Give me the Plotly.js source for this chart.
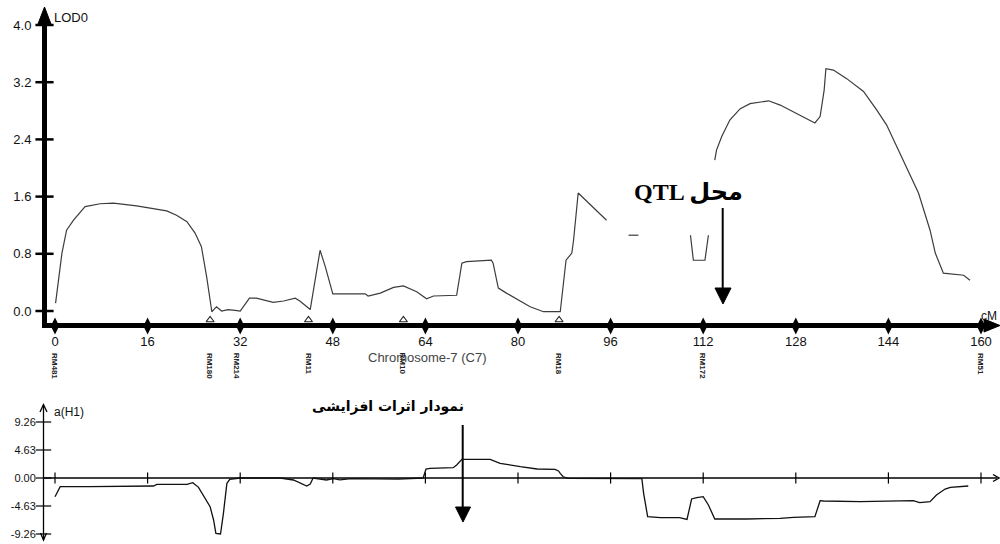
<!DOCTYPE html>
<html><head><meta charset="utf-8">
<script src="https://cdn.plot.ly/plotly-3.0.1.min.js"></script>
<style>html,body{margin:0;padding:0;background:#fff}#chart{width:1000px;height:544px}</style>
</head><body><div id="chart"></div>
<script>
// ---------- data ----------
const lodPos = [0.1, 1.2, 2.0, 3.2, 5.2, 7.8, 10.1, 14.1, 19.3, 21.0, 22.8, 24.2, 25.3, 26.2, 27.1, 27.9, 28.8, 29.9, 31.1, 32.0, 33.6, 34.8, 37.7, 39.5, 41.5, 42.3, 44.1, 45.8, 46.7, 48.0, 53.6, 54.1, 56.2, 58.5, 60.2, 62.5, 64.2, 65.4, 69.4, 70.3, 71.1, 73.4, 75.4, 75.7, 76.6, 78.0, 82.1, 84.4, 87.3, 88.3, 89.3, 89.6, 90.4, 95.3, null, 99.1, 100.8, null, 109.8, 110.3, 112.3, 112.9, null, 114.0, 114.3, 115.2, 116.6, 118.4, 120.1, 123.3, 125.3, 131.3, 132.2, 132.9, 133.2, 134.5, 136.8, 139.7, 142.0, 143.7, 146.6, 149.2, 151.2, 152.1, 153.5, 157.0, 158.1];
const lodVal = [0.11, 0.81, 1.13, 1.27, 1.46, 1.50, 1.51, 1.47, 1.40, 1.34, 1.25, 1.09, 0.90, 0.48, -0.01, 0.06, 0.0, 0.02, 0.01, 0.0, 0.18, 0.18, 0.12, 0.14, 0.18, 0.14, 0.02, 0.85, 0.62, 0.24, 0.24, 0.21, 0.25, 0.33, 0.35, 0.27, 0.17, 0.21, 0.22, 0.67, 0.69, 0.70, 0.71, 0.67, 0.32, 0.25, 0.06, -0.01, -0.01, 0.71, 0.81, 0.99, 1.65, 1.27, null, 1.06, 1.06, null, 1.06, 0.71, 0.71, 1.06, null, 2.11, 2.25, 2.44, 2.67, 2.83, 2.90, 2.94, 2.88, 2.63, 2.72, 3.09, 3.39, 3.37, 3.25, 3.07, 2.81, 2.60, 2.11, 1.65, 1.13, 0.81, 0.53, 0.50, 0.43];

const effPos = [0, 0.9, 6.0, 17.0, 17.6, 22.8, 23.8, 24.8, 26.8, 27.4, 27.8, 28.6, 29.1, 29.7, 30.2, 32.0, 38.9, 41.2, 43.5, 44.1, 44.6, 46.9, 48.1, 49.2, 51.2, 59.3, 63.6, 64.1, 64.8, 68.8, 69.4, 70.3, 75.2, 76.9, 80.4, 83.3, 86.4, 87.0, 87.3, 87.8, 88.7, 101.4, 101.7, 102.4, 104.6, 107.9, 109.2, 110.0, 110.9, 112.0, 112.9, 114.0, 119.5, 125.3, 127.6, 131.3, 132.2, 132.8, 139.1, 145.4, 148.3, 149.4, 151.2, 152.3, 153.8, 154.7, 157.8];
const effVal = [-3.09, -1.43, -1.43, -1.32, -1.05, -1.05, -0.77, -1.55, -4.74, -6.94, -9.15, -9.26, -5.84, -0.88, -0.22, 0, 0, -0.33, -1.32, -0.99, 0, -0.33, -0.1, -0.3, -0.1, -0.17, 0, 1.49, 1.60, 1.71, 2.15, 3.09, 3.09, 2.43, 1.87, 1.49, 1.43, 1.16, 0.77, 0.2, -0.05, -0.1, -2.5, -6.39, -6.56, -6.56, -6.84, -3.47, -3.25, -3.09, -4.46, -6.78, -6.78, -6.67, -6.5, -6.39, -3.75, -3.8, -3.91, -3.8, -3.75, -4.08, -3.91, -2.81, -1.82, -1.54, -1.32];

const xTicks = [0, 16, 32, 48, 64, 80, 96, 112, 128, 144, 160];
const lodTicks = [0, 0.8, 1.6, 2.4, 3.2, 4.0];
const lodTickText = ['0.0', '0.8', '1.6', '2.4', '3.2', '4.0'];
const effTicks = [-9.26, -4.63, 0, 4.63, 9.26];
const effTickText = ['-9.26', '-4.63', '0.00', '4.63', '9.26'];
const markerNames = ['RM481', 'RM180', 'RM214', 'RM11', 'RM10', 'RM18', 'RM172', 'RM51'];
const markerPos = [0, 26.8, 31.5, 43.8, 60.2, 87.1, 112, 160];

// ---------- geometry helpers (layout only) ----------
const W = 1000, H = 544, L = 43;
const X0PX = 55, XPER = 5.7875;            // px of x=0, px per cM
const dx = px => (px - X0PX) / XPER;        // pixel -> cM
const pxX = px => (px - L) / (W - L);       // pixel -> paper x
const pxY = py => 1 - py / H;               // pixel -> paper y
const lodY = py => (311 - py) / 71.5;       // pixel -> LOD
const effY = py => (478 - py) / 6.048;      // pixel -> effect
const xr = [dx(L), dx(W)];

const font = 'Liberation Sans, Arial, sans-serif';
const arabicFont = 'DejaVu Sans, Noto Sans, sans-serif';

const triPos = markerPos.filter(p => !xTicks.some(t => Math.abs(t - p) < 1));

const traces = [
  {x: lodPos, y: lodVal, xaxis: 'x', yaxis: 'y', mode: 'lines', connectgaps: false,
   line: {color: '#3c3c3c', width: 1.2}, hoverinfo: 'skip'},
  {x: effPos, y: effVal, xaxis: 'x2', yaxis: 'y2', mode: 'lines',
   line: {color: '#111', width: 1.3}, hoverinfo: 'skip'},
  // top x-axis tick diamonds
  {x: xTicks, y: xTicks.map(() => lodY(326)), xaxis: 'x', yaxis: 'y', mode: 'markers', cliponaxis: false,
   marker: {symbol: 'diamond-tall', size: 12, color: '#000'}, hoverinfo: 'skip'},
  // marker triangles
  {x: triPos, y: triPos.map(() => lodY(320)),
   xaxis: 'x', yaxis: 'y', mode: 'markers', cliponaxis: false,
   marker: {symbol: 'triangle-up-open', size: 7, color: '#222', line: {width: 1.1, color: '#222'}}, hoverinfo: 'skip'},
  // top y ticks
  {x: lodTicks.map(() => dx(44.5)), y: lodTicks, xaxis: 'x', yaxis: 'y', mode: 'markers', cliponaxis: false,
   marker: {symbol: 'line-ew', size: 13, line: {width: 2.5, color: '#000'}}, hoverinfo: 'skip'},
  // bottom x ticks
  {x: xTicks, y: xTicks.map(() => 0), xaxis: 'x2', yaxis: 'y2', mode: 'markers', cliponaxis: false,
   marker: {symbol: 'line-ns', size: 8, line: {width: 1.2, color: '#000'}}, hoverinfo: 'skip'},
  // bottom y ticks
  {x: effTicks.map(() => dx(43.5)), y: effTicks, xaxis: 'x2', yaxis: 'y2', mode: 'markers', cliponaxis: false,
   marker: {symbol: 'line-ew', size: 11, line: {width: 1.2, color: '#000'}}, hoverinfo: 'skip'}
];

const P = (pts) => 'M ' + pts.map(p => pxX(p[0]) + ',' + pxY(p[1])).join(' L ');
const line = (x0, y0, x1, y1, w) => ({type: 'line', xref: 'paper', yref: 'paper', layer: 'below',
  x0: pxX(x0), y0: pxY(y0), x1: pxX(x1), y1: pxY(y1), line: {color: '#000', width: w}});
const filled = (pts) => ({type: 'path', xref: 'paper', yref: 'paper', layer: 'below', path: P(pts) + ' Z',
  fillcolor: '#000', line: {color: '#000', width: 1}});
const open = (pts, w) => ({type: 'path', xref: 'paper', yref: 'paper', layer: 'below', path: P(pts),
  line: {color: '#000', width: w}});

const shapes = [
  line(44.5, 327, 44.5, 20, 5),
  filled([[44.5, 7], [51, 24], [38, 24]]),
  line(42, 325.5, 986, 325.5, 5),
  filled([[1000, 325.5], [984, 319], [984, 332]]),
  line(43, 478, 997, 478, 1.3),
  open([[993, 474.5], [999, 478], [993, 481.5]], 1.3),
  line(43.5, 405, 43.5, 540, 1.3),
  open([[40, 412], [43.5, 404.5], [47, 412]], 1.3),
  open([[40.5, 533], [43.5, 540], [46.5, 533]], 1.3),
  line(722.7, 208, 722.7, 290, 2),
  filled([[715, 288], [731, 288], [723, 304]]),
  line(462.7, 425, 462.7, 508, 2),
  filled([[455.5, 507], [470.5, 507], [463, 522]])
];

const annotations = [
  {text: 'LOD0', xref: 'paper', yref: 'paper', x: pxX(52), y: pxY(17), xanchor: 'left', yanchor: 'middle',
   showarrow: false, font: {family: font, size: 13, color: '#111'}},
  {text: 'cM', xref: 'paper', yref: 'paper', x: pxX(989), y: pxY(316), xanchor: 'center', yanchor: 'middle',
   showarrow: false, font: {family: font, size: 12, color: '#111'}},
  {text: 'Chromosome-7 (C7)', xref: 'paper', yref: 'paper', x: pxX(427), y: pxY(357), xanchor: 'center', yanchor: 'middle',
   showarrow: false, font: {family: font, size: 13, color: '#444'}},
  {text: 'a(H1)', xref: 'paper', yref: 'paper', x: pxX(52), y: pxY(412), xanchor: 'left', yanchor: 'middle',
   showarrow: false, font: {family: font, size: 12, color: '#111'}},
  {text: '<b>QTL محل</b>', xref: 'paper', yref: 'paper', x: pxX(688), y: pxY(192), xanchor: 'center', yanchor: 'middle',
   showarrow: false, font: {family: 'Liberation Serif, DejaVu Sans, serif', size: 24, color: '#000'}},
  {text: '<b>نمودار اثرات افزایشی</b>', xref: 'paper', yref: 'paper', x: pxX(388), y: pxY(406), xanchor: 'center', yanchor: 'middle',
   showarrow: false, font: {family: arabicFont, size: 14, color: '#000'}}
].concat(markerNames.map((n, i) => ({
  text: '<b>' + n + '</b>', xref: 'x', yref: 'paper', x: markerPos[i], y: pxY(351), xanchor: 'center', yanchor: 'top',
  textangle: 90, showarrow: false, font: {family: font, size: 8, color: '#222'}
})));

const layout = {
  width: W, height: H, margin: {l: L, r: 0, t: 0, b: 0}, paper_bgcolor: '#fff', plot_bgcolor: 'rgba(0,0,0,0)',
  showlegend: false,
  xaxis: {domain: [0, 1], range: xr, anchor: 'y', tickmode: 'array', tickvals: xTicks, ticktext: xTicks.map(String),
    ticks: '', showgrid: false, zeroline: false, showline: false,
    tickfont: {family: font, size: 13, color: '#111'}},
  yaxis: {domain: [pxY(332), pxY(6)], range: [lodY(332), lodY(6)], anchor: 'x', tickmode: 'array', tickvals: lodTicks,
    ticktext: lodTickText, ticks: 'outside', ticklen: 8, tickcolor: 'rgba(0,0,0,0)', showgrid: false, zeroline: false,
    showline: false, tickfont: {family: font, size: 13, color: '#111'}},
  xaxis2: {domain: [0, 1], range: xr, anchor: 'y2', showticklabels: false, ticks: '', showgrid: false, zeroline: false, showline: false},
  yaxis2: {domain: [pxY(542), pxY(402)], range: [effY(542), effY(402)], anchor: 'x2', tickmode: 'array', tickvals: effTicks,
    ticktext: effTickText, ticks: 'outside', ticklen: 4, tickcolor: 'rgba(0,0,0,0)', showgrid: false, zeroline: false,
    showline: false, tickfont: {family: font, size: 11, color: '#111'}},
  shapes: shapes,
  annotations: annotations
};

Plotly.newPlot('chart', traces, layout, {staticPlot: true, displayModeBar: false});
</script>
</body></html>
